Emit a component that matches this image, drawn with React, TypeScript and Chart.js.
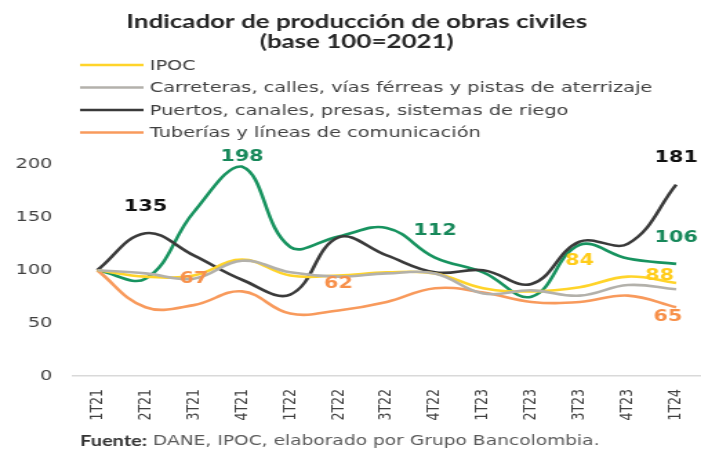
import React, { useEffect, useRef } from 'react';
import { Chart, registerables } from 'chart.js';

Chart.register(...registerables);

// ---- data ----
const categories = ['1T21', '2T21', '3T21', '4T21', '1T22', '2T22', '3T22', '4T22', '1T23', '2T23', '3T23', '4T23', '1T24'];
const ipoc = [100, 94, 95, 110, 95, 95, 98, 97, 83, 80, 84, 94, 88];
const carreteras = [100, 97, 92, 109, 98, 94, 97, 97, 78, 81, 76, 86, 82];
const puertos = [100, 135, 114, 91, 77, 131, 114, 98, 100, 87, 127, 125, 181];
const tuberias = [100, 65, 67, 80, 59, 62, 70, 83, 79, 70, 70, 76, 65];
const construcciones = [100, 92, 155, 198, 122, 132, 140, 112, 98, 75, 124, 111, 106];
const yTicks = [0, 50, 100, 150, 200];

const ipocLabelIdx = [10, 12];
const puertosLabelIdx = [1, 12];
const tuberiasLabelIdx = [2, 5, 12];
const construccionesLabelIdx = [3, 7, 12];

const titleLines = ['Indicador de producción de obras civiles', '(base 100=2021)'];
const sourceBold = 'Fuente:';
const sourceText = ' DANE, IPOC, elaborado por Grupo Bancolombia.';

// ---- layout (canvas drawn narrow, then stretched horizontally like the reference) ----
const S = 1.38;
const CW = 518;
const CH = 453;

const dataLabelPlugin = {
  id: 'dataLabelsCustom',
  afterDatasetsDraw(chart: any) {
    const ctx = chart.ctx;
    chart.data.datasets.forEach((ds: any, di: number) => {
      const idxs: number[] = ds.labelIdx || [];
      const meta = chart.getDatasetMeta(di);
      idxs.forEach((i) => {
        const pt = meta.data[i];
        if (!pt) return;
        const off = (ds.labelOffsets && ds.labelOffsets[i]) || [0, -26];
        ctx.save();
        ctx.font = 'bold 15px "DejaVu Sans"';
        ctx.fillStyle = ds.labelColor;
        ctx.textAlign = 'center';
        ctx.textBaseline = 'middle';
        ctx.fillText(String(ds.data[i]), pt.x + off[0], pt.y + off[1]);
        ctx.restore();
      });
    });
  },
};

const legendPlugin = {
  id: 'legendCustom',
  afterDraw(chart: any) {
    const ctx = chart.ctx;
    const items = chart.data.datasets
      .filter((ds: any) => ds.legendRank !== undefined)
      .sort((a: any, b: any) => a.legendRank - b.legendRank);
    items.forEach((ds: any, row: number) => {
      const y = 65 + row * 22.5;
      ctx.save();
      ctx.strokeStyle = ds.borderColor;
      ctx.lineWidth = 2.5;
      ctx.beginPath();
      ctx.moveTo(58, y);
      ctx.lineTo(104, y);
      ctx.stroke();
      ctx.font = '14px "DejaVu Sans"';
      ctx.fillStyle = '#404040';
      ctx.textAlign = 'left';
      ctx.textBaseline = 'middle';
      ctx.fillText(ds.label, 108.5, y + 1);
      ctx.restore();
    });
  },
};

const footerPlugin = {
  id: 'footerCustom',
  afterDraw(chart: any) {
    const ctx = chart.ctx;
    ctx.save();
    ctx.textBaseline = 'middle';
    ctx.textAlign = 'left';
    ctx.font = 'bold 14.5px Lato';
    ctx.fillStyle = '#333333';
    ctx.fillText(sourceBold, 58, 441);
    const w = ctx.measureText(sourceBold).width;
    ctx.font = '13.5px "DejaVu Sans"';
    ctx.fillStyle = '#595959';
    ctx.fillText(sourceText, 58 + w, 441);
    ctx.restore();
  },
};

export default function App() {
  const ref = useRef<HTMLCanvasElement | null>(null);

  useEffect(() => {
    if (!ref.current) return;
    const mk = (label: string, data: number[], color: string, labelColor: string, labelIdx: number[], extra: any = {}) => ({
      label,
      data,
      borderColor: color,
      backgroundColor: color,
      borderWidth: 2.6,
      pointRadius: 0,
      pointHoverRadius: 0,
      tension: 0.4,
      fill: false,
      clip: false,
      labelColor,
      labelIdx,
      ...extra,
    });
    const chart = new Chart(ref.current, {
      type: 'line',
      data: {
        labels: categories,
        datasets: [
          mk('Carreteras, calles, vías férreas y pistas de aterrizaje', carreteras, '#b3b1ab', '#9a9a9a', [], {
            legendRank: 1,
          }),
          mk('IPOC', ipoc, '#ffd42a', '#ffcc1a', ipocLabelIdx, {
            legendRank: 0,
            labelOffsets: { 12: [-12, -7] },
          }),
          mk('Tuberías y líneas de comunicación', tuberias, '#f89a5c', '#f7904a', tuberiasLabelIdx, {
            legendRank: 3,
            labelOffsets: { 12: [-6, 10] },
          }),
          mk('Puertos, canales, presas, sistemas de riego', puertos, '#3a3a3a', '#111111', puertosLabelIdx, {
            legendRank: 2,
          }),
          mk('Construcciones especiales', construcciones, '#17935f', '#17885a', construccionesLabelIdx, {
            labelOffsets: { 3: [0, -9] },
          }),
        ],
      } as any,
      options: {
        responsive: false,
        animation: false,
        devicePixelRatio: 1,
        layout: { padding: { left: 0, right: 1, top: 0, bottom: 0 } },
        plugins: {
          legend: { display: false },
          tooltip: { enabled: false },
          title: {
            display: true,
            text: titleLines,
            color: '#262626',
            font: { family: 'Lato', weight: 'bold', size: 18.8, lineHeight: 1.05 },
            padding: { top: 12, bottom: 113 },
          },
        },
        scales: {
          x: {
            type: 'category',
            offset: true,
            grid: { display: false, drawTicks: false },
            border: { display: true, color: '#d9d9d9', width: 1.5 },
            ticks: {
              autoSkip: false,
              maxRotation: 90,
              minRotation: 90,
              padding: 13,
              color: '#404040',
              font: { family: 'DejaVu Sans', size: 12.5 },
            },
            afterFit: (scale: any) => {
              scale.height = 77;
            },
          },
          y: {
            min: 0,
            max: 200,
            afterBuildTicks: (scale: any) => {
              scale.ticks = yTicks.map((v) => ({ value: v }));
            },
            grid: { display: false, drawTicks: false },
            border: { display: false },
            ticks: {
              padding: 15,
              color: '#404040',
              font: { family: 'DejaVu Sans', size: 14 },
            },
            afterFit: (scale: any) => {
              scale.width = 53;
            },
          },
        },
      } as any,
      plugins: [dataLabelPlugin, legendPlugin, footerPlugin],
    });
    return () => chart.destroy();
  }, []);

  return (
    <div
      style={{
        position: 'fixed',
        left: 0,
        top: 0,
        width: 701,
        height: 453,
        overflow: 'hidden',
        background: '#ffffff',
      }}
    >
      <canvas
        ref={ref}
        width={CW}
        height={CH}
        style={{
          display: 'block',
          width: CW + 'px',
          height: CH + 'px',
          transform: `scaleX(${S})`,
          transformOrigin: '0 0',
        }}
      />
    </div>
  );
}
